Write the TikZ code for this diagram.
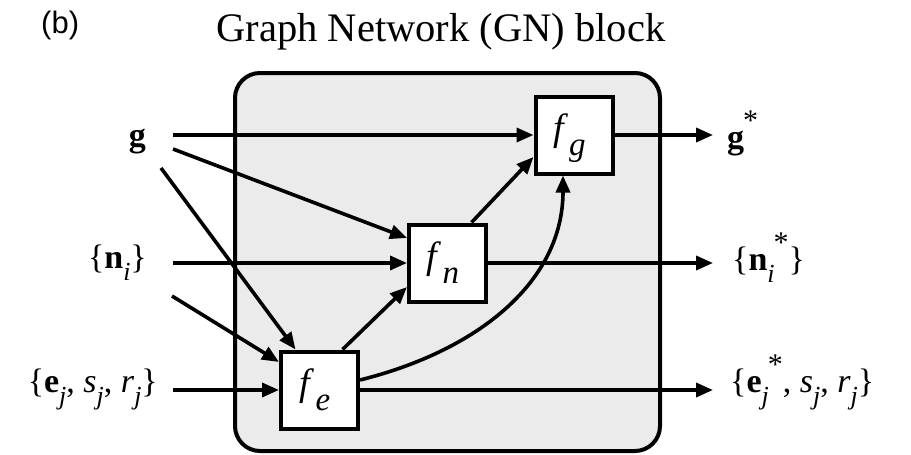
\documentclass[tikz,border=0pt]{standalone}
\usepackage{fontspec}
\setmainfont{Liberation Serif}
\newfontfamily\labsans{Liberation Sans}
\usetikzlibrary{arrows.meta,calc}
\newcommand{\lsub}[1]{\raisebox{-0.36em}{\fontsize{26}{26}\selectfont\itshape #1}}
\newcommand{\lstar}{\kern-1pt\raisebox{0.52em}{\fontsize{30}{30}\selectfont *}}
\newcommand{\fsub}[1]{\kern1pt\raisebox{-15pt}{\fontsize{33}{33}\selectfont\itshape #1}\hspace*{9pt}}
\begin{document}
\begin{tikzpicture}[x=1pt,y=-1pt,
  fbox/.style={draw,line width=4pt,fill=white,minimum width=77pt,minimum height=77pt,
    inner sep=0pt,text height=25pt,text depth=15pt,font=\fontsize{38}{38}\selectfont},
  lab/.style={inner sep=0pt,font=\fontsize{34}{34}\selectfont},
  arr/.style={line width=3.6pt,-{Triangle[length=17pt,width=14pt]}},
  gnbox/.style={draw,line width=4pt,fill=gray!16,rounded corners=25pt}]
\useasboundingbox (0,0) rectangle (911,455);
% title
\node[anchor=base,inner sep=0pt,font=\fontsize{40.5}{40.5}\selectfont] (title) at (441,41) {Graph Network (GN) block};
\node[anchor=base west,inner sep=0pt,font=\labsans\fontsize{31}{31}\selectfont] (blab) at (41,33) {(b)};
% GN block
\node[gnbox,minimum width=425pt,minimum height=378pt,anchor=north west] (gn) at (233,71) {};
% inputs
\node[lab,anchor=base east] (g) at (146,146) {\textbf{g}};
\node[lab,anchor=base east] (n) at (147,268) {\{\textbf{n}\lsub{i}\}};
\node[lab,anchor=base east] (e) at (158,392) {\{\textbf{e}\lsub{j}, \textit{s}\lsub{j}, \textit{r}\lsub{j}\}};
% outputs
\node[lab,anchor=base west] (gs) at (727,148) {\textbf{g}\lstar};
\node[lab,anchor=base west] (ns) at (732,270) {\{\textbf{n}\lsub{i}\lstar\}};
\node[lab,anchor=base west] (es) at (730,392) {\{\textbf{e}\lsub{j}\lstar, \textit{s}\lsub{j}, \textit{r}\lsub{j}\}};
% free ends
\coordinate (g1) at (173,135);
\coordinate (g2) at (173,149);
\coordinate (g3) at (161,168);
\coordinate (x4) at (172,296);
\coordinate (n1) at (173,263);
\coordinate (e1) at (173,390);
\coordinate (go) at (713,135);
\coordinate (no) at (713,263);
\coordinate (eo) at (713,390);
% function boxes
\path (574,135) coordinate (cg) (447.5,263) coordinate (cn) (319.5,390) coordinate (ce);
\node[fbox] (fg) at (cg) {\textit{f}\fsub{g}};
\node[fbox] (fn) at (cn) {\textit{f}\fsub{n}};
\node[fbox] (fe) at (ce) {\textit{f}\fsub{e}};
% connectors
\draw[arr] (g1) -- (fg.west);
\draw[arr] (g2) -- ($(fn.west)+(0,-25)$);
\draw[arr] (g3) -- ($(fe.north)+(-24,0)$);
\draw[arr] (x4) -- ($(fe.west)+(0,-28)$);
\draw[arr] (n1) -- (fn.west);
\draw[arr] (e1) -- (fe.west);
\draw[arr] ($(fe.north)+(23,0)$) -- ($(fn.west)+(0,24)$);
\draw[arr] ($(fn.north)+(24,0)$) -- ($(fg.west)+(0,22)$);
\draw[arr] ($(fe.east)+(0,-10)$) .. controls +(120,-30) and +(0,105) .. ($(fg.south)+(-11,0)$);
\draw[arr] (fg.east) -- (go);
\draw[arr] (fn.east) -- (no);
\draw[arr] (fe.east) -- (eo);
% boxes on top of connector ends
\node[fbox] at (cg) {\textit{f}\fsub{g}};
\node[fbox] at (cn) {\textit{f}\fsub{n}};
\node[fbox] at (ce) {\textit{f}\fsub{e}};
\end{tikzpicture}
\end{document}
